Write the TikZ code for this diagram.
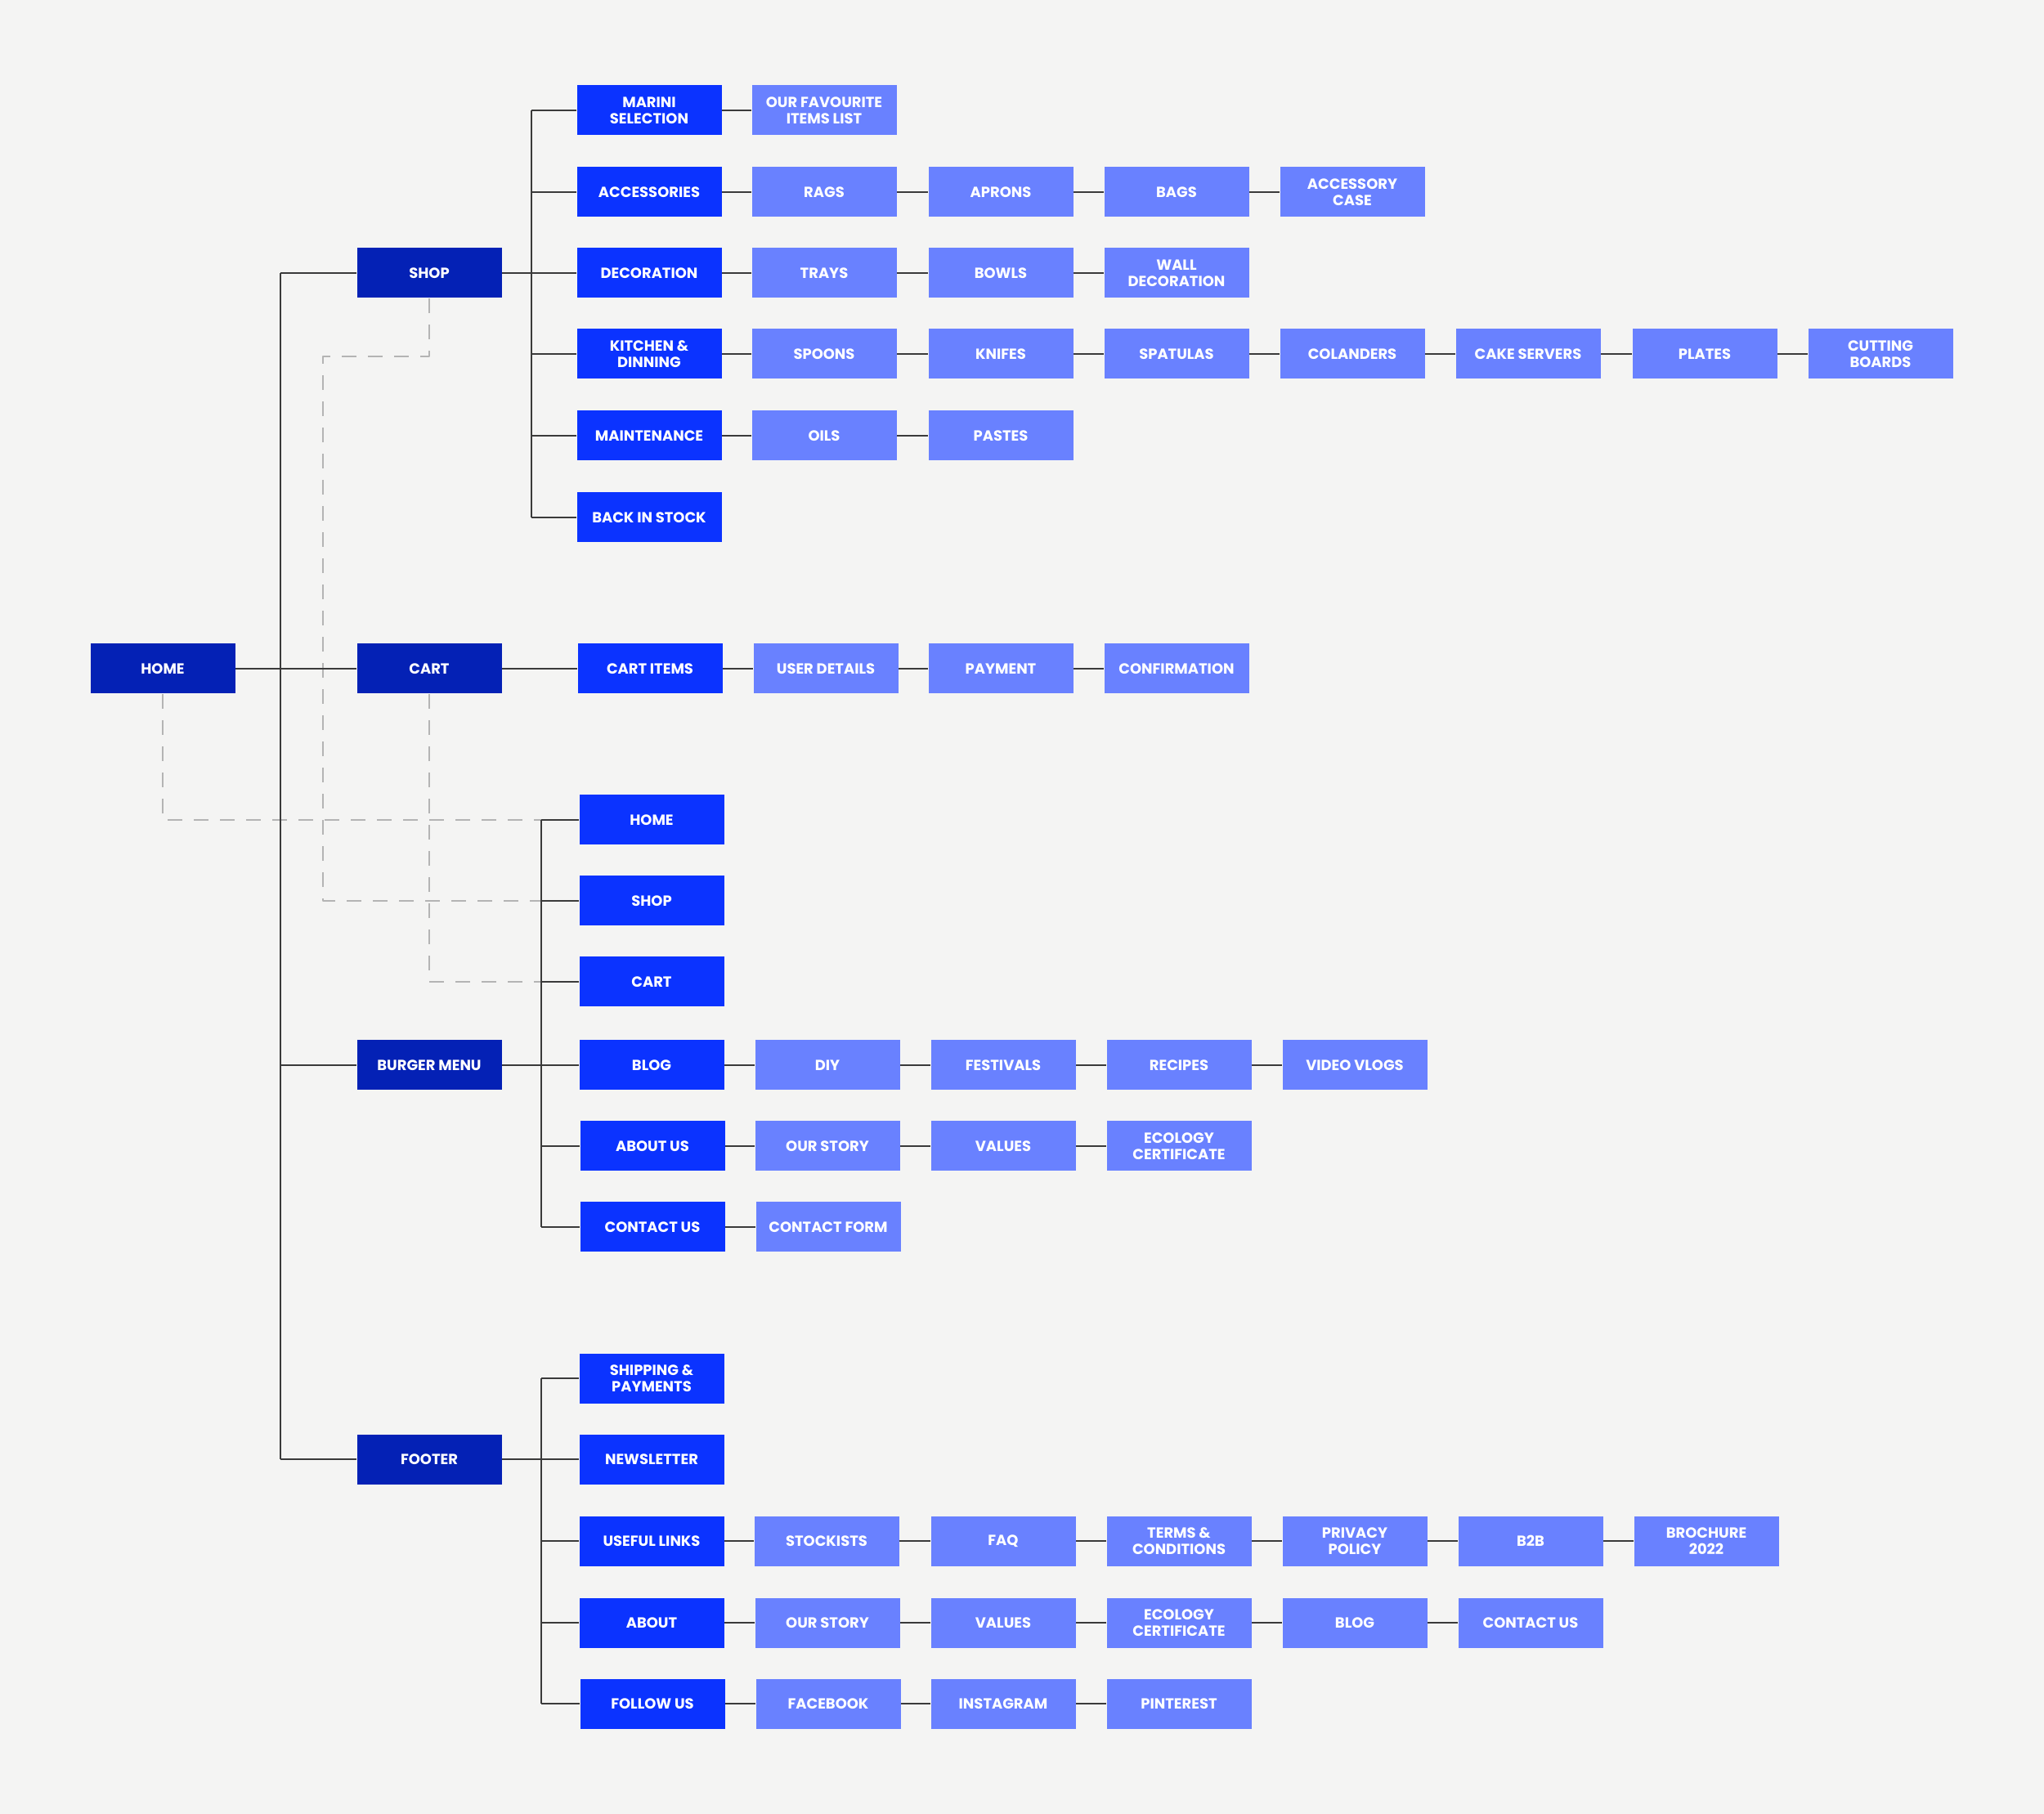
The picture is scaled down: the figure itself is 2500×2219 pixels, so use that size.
\documentclass[tikz,border=0pt]{standalone}
\usepackage{fontspec}
\setmainfont{Poppins}
\definecolor{mapbg}{HTML}{F4F4F3}
\definecolor{maptop}{HTML}{0421B5}
\definecolor{mapsec}{HTML}{0B33FF}
\definecolor{mapleaf}{HTML}{6981FF}
\definecolor{mapline}{HTML}{3A3A3A}
\definecolor{maplink}{HTML}{B4B4B4}
\tikzset{
  mapbox/.style={minimum width=17.7mm,minimum height=6.1mm,inner sep=0pt,
    align=center,text=white,font=\fontsize{5.1}{5.8}\selectfont\bfseries},
  topbox/.style={mapbox,fill=maptop},
  secbox/.style={mapbox,fill=mapsec},
  leafbox/.style={mapbox,fill=mapleaf},
  treeline/.style={draw=mapline,line width=0.22mm},
  linkline/.style={draw=maplink,line width=0.2mm,dash pattern=on 1.8mm off 1.4mm}
}
\begin{document}
\begin{tikzpicture}[x=0.1mm,y=-0.1mm,line join=round]
  % Frame of the original export.
  \fill[mapbg] (0,-2) rectangle (2500,2217);
  \useasboundingbox (0,-2) rectangle (2500,2217);

  % Trunk positions.
  \coordinate (maintrunk) at (343,0);
  \coordinate (shoptrunk) at (650,0);
  \coordinate (burgertrunk) at (662,0);
  \coordinate (shopbend) at (395,434);

  % Root and first level.
  \node[topbox] (home) at (199,816) {HOME};
  \node[topbox] (shop) at (525,332) {SHOP};
  \node[topbox] (cart) at (525,816) {CART};
  \node[topbox] (burger) at (525,1301) {BURGER MENU};
  \node[topbox] (footer) at (525,1783) {FOOTER};

  % Shop.
  \node[secbox] (marini) at (794,133) {MARINI\\SELECTION};
  \node[secbox] (accessories) at (794,233) {ACCESSORIES};
  \node[secbox] (decoration) at (794,332) {DECORATION};
  \node[secbox] (kitchen) at (794,431) {KITCHEN \&\\DINNING};
  \node[secbox] (maintenance) at (794,531) {MAINTENANCE};
  \node[secbox] (backstock) at (794,631) {BACK IN STOCK};

  \node[leafbox] (favourite) at (1008,133) {OUR FAVOURITE\\ITEMS LIST};
  \node[leafbox] (rags) at (1008,233) {RAGS};
  \node[leafbox] (aprons) at (1224,233) {APRONS};
  \node[leafbox] (bags) at (1439,233) {BAGS};
  \node[leafbox] (acccase) at (1654,233) {ACCESSORY\\CASE};
  \node[leafbox] (trays) at (1008,332) {TRAYS};
  \node[leafbox] (bowls) at (1224,332) {BOWLS};
  \node[leafbox] (walldeco) at (1439,332) {WALL\\DECORATION};
  \node[leafbox] (spoons) at (1008,431) {SPOONS};
  \node[leafbox] (knifes) at (1224,431) {KNIFES};
  \node[leafbox] (spatulas) at (1439,431) {SPATULAS};
  \node[leafbox] (colanders) at (1654,431) {COLANDERS};
  \node[leafbox] (cakeservers) at (1869,431) {CAKE SERVERS};
  \node[leafbox] (plates) at (2085,431) {PLATES};
  \node[leafbox] (cutting) at (2300,431) {CUTTING\\BOARDS};
  \node[leafbox] (oils) at (1008,531) {OILS};
  \node[leafbox] (pastes) at (1224,531) {PASTES};

  % Cart.
  \node[secbox] (cartitems) at (795,816) {CART ITEMS};
  \node[leafbox] (userdetails) at (1010,816) {USER DETAILS};
  \node[leafbox] (payment) at (1224,816) {PAYMENT};
  \node[leafbox] (confirmation) at (1439,816) {CONFIRMATION};

  % Burger menu.
  \node[secbox] (bhome) at (797,1001) {HOME};
  \node[secbox] (bshop) at (797,1100) {SHOP};
  \node[secbox] (bcart) at (797,1199) {CART};
  \node[secbox] (blog) at (797,1301) {BLOG};
  \node[secbox] (aboutus) at (798,1400) {ABOUT US};
  \node[secbox] (contactus) at (798,1499) {CONTACT US};

  \node[leafbox] (diy) at (1012,1301) {DIY};
  \node[leafbox] (festivals) at (1227,1301) {FESTIVALS};
  \node[leafbox] (recipes) at (1442,1301) {RECIPES};
  \node[leafbox] (vlogs) at (1657,1301) {VIDEO VLOGS};
  \node[leafbox] (ourstory) at (1012,1400) {OUR STORY};
  \node[leafbox] (values) at (1227,1400) {VALUES};
  \node[leafbox] (ecology) at (1442,1400) {ECOLOGY\\CERTIFICATE};
  \node[leafbox] (contactform) at (1013,1499) {CONTACT FORM};

  % Footer.
  \node[secbox] (shipping) at (797,1684) {SHIPPING \&\\PAYMENTS};
  \node[secbox] (newsletter) at (797,1783) {NEWSLETTER};
  \node[secbox] (useful) at (797,1883) {USEFUL LINKS};
  \node[secbox] (fabout) at (797,1983) {ABOUT};
  \node[secbox] (follow) at (798,2082) {FOLLOW US};

  \node[leafbox] (stockists) at (1011,1883) {STOCKISTS};
  \node[leafbox] (faq) at (1227,1883) {FAQ};
  \node[leafbox] (terms) at (1442,1883) {TERMS \&\\CONDITIONS};
  \node[leafbox] (privacy) at (1657,1883) {PRIVACY\\POLICY};
  \node[leafbox] (btob) at (1872,1883) {B2B};
  \node[leafbox] (brochure) at (2087,1883) {BROCHURE\\2022};
  \node[leafbox] (fourstory) at (1012,1983) {OUR STORY};
  \node[leafbox] (fvalues) at (1227,1983) {VALUES};
  \node[leafbox] (fecology) at (1442,1983) {ECOLOGY\\CERTIFICATE};
  \node[leafbox] (fblog) at (1657,1983) {BLOG};
  \node[leafbox] (fcontact) at (1872,1983) {CONTACT US};
  \node[leafbox] (facebook) at (1013,2082) {FACEBOOK};
  \node[leafbox] (instagram) at (1227,2082) {INSTAGRAM};
  \node[leafbox] (pinterest) at (1442,2082) {PINTEREST};

  % Dashed links back to the main pages.
  \draw[linkline] (home.south) |- (bhome.west -| burgertrunk);
  \draw[linkline] (shop.south) |- (shopbend) |- (bshop.west -| burgertrunk);
  \draw[linkline] (cart.south) |- (bcart.west -| burgertrunk);

  % Tree lines.
  \draw[treeline] (shop.west -| maintrunk) -- (footer.west -| maintrunk);
  \draw[treeline] (home.east) -- (cart.west);
  \foreach \n in {shop,burger,footer}
    \draw[treeline] (\n.west) -- (\n.west -| maintrunk);

  \draw[treeline] (marini.west -| shoptrunk) -- (backstock.west -| shoptrunk);
  \draw[treeline] (shop.east) -- (decoration.west);
  \foreach \n in {marini,accessories,kitchen,maintenance,backstock}
    \draw[treeline] (\n.west) -- (\n.west -| shoptrunk);

  \draw[treeline] (cart.east) -- (cartitems.west);

  \draw[treeline] (bhome.west -| burgertrunk) -- (contactus.west -| burgertrunk);
  \draw[treeline] (burger.east) -- (blog.west);
  \draw[treeline] (shipping.west -| burgertrunk) -- (follow.west -| burgertrunk);
  \draw[treeline] (footer.east) -- (newsletter.west);
  \foreach \n in {bhome,bshop,bcart,aboutus,contactus,shipping,useful,fabout,follow}
    \draw[treeline] (\n.west) -- (\n.west -| burgertrunk);

  \foreach \a/\b in {marini/favourite,accessories/rags,rags/aprons,aprons/bags,
      bags/acccase,decoration/trays,trays/bowls,bowls/walldeco,kitchen/spoons,
      spoons/knifes,knifes/spatulas,spatulas/colanders,colanders/cakeservers,
      cakeservers/plates,plates/cutting,maintenance/oils,oils/pastes,
      cartitems/userdetails,userdetails/payment,payment/confirmation,
      blog/diy,diy/festivals,festivals/recipes,recipes/vlogs,
      aboutus/ourstory,ourstory/values,values/ecology,contactus/contactform,
      useful/stockists,stockists/faq,faq/terms,terms/privacy,privacy/btob,
      btob/brochure,fabout/fourstory,fourstory/fvalues,fvalues/fecology,
      fecology/fblog,fblog/fcontact,follow/facebook,facebook/instagram,
      instagram/pinterest}
    \draw[treeline] (\a.east) -- (\b.west);
\end{tikzpicture}
\end{document}
